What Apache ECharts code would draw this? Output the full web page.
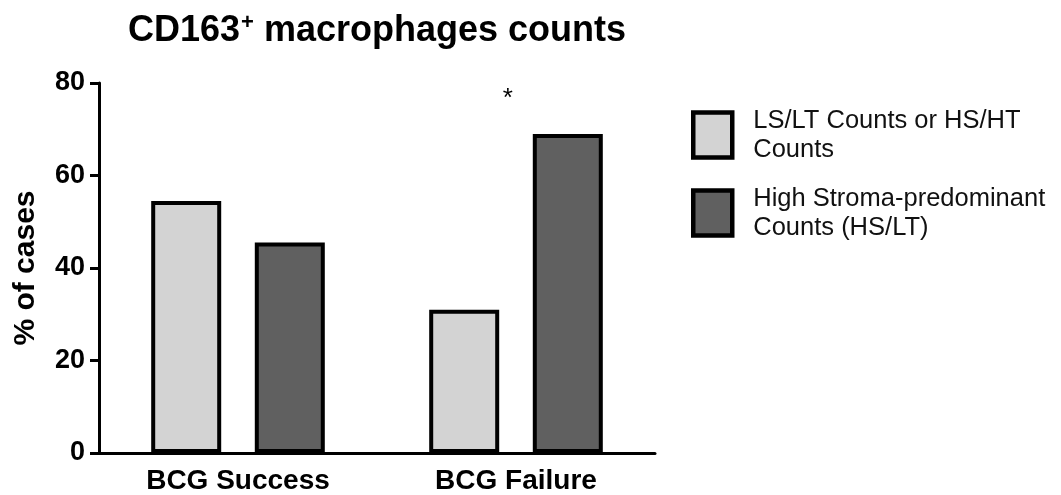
<!DOCTYPE html>
<html>
<head>
<meta charset="utf-8">
<script src="https://cdn.jsdelivr.net/npm/echarts@6/dist/echarts.min.js"></script>
<style>
html,body{margin:0;padding:0;background:#fff;}
#chart{width:1061px;height:495px;}
</style>
</head>
<body>
<div id="chart"></div>
<script>
const categories = ['BCG Success', 'BCG Failure'];
const seriesNames = ['LS/LT Counts or HS/HT\nCounts', 'High Stroma-predominant\nCounts (HS/LT)'];
const lowCounts = [54.5, 31];
const highStroma = [45.5, 69];
const yTicks = [0, 20, 40, 60, 80];
const significance = { category: 'BCG Failure', value: 76.5, text: '*' };

const FONT = '"Liberation Sans", Arial, Helvetica, sans-serif';
const chart = echarts.init(document.getElementById('chart'), null, { renderer: 'canvas' });

const barStyleBase = { borderColor: '#000', borderWidth: 4 };

chart.setOption({
  animation: false,
  backgroundColor: '#fff',
  title: {
    text: '{a|CD163}{s|+}{a| macrophages counts}',
    left: 123,
    top: 7,
    textStyle: {
      rich: {
        a: { fontFamily: FONT, fontWeight: 'bold', fontSize: 36, color: '#000' },
        s: { fontFamily: FONT, fontWeight: 'bold', fontSize: 22, color: '#000', verticalAlign: 'top', padding: [0, 0, 16, 1] }
      }
    }
  },
  legend: {
    orient: 'vertical',
    left: 691,
    top: 106,
    padding: 0,
    itemWidth: 39,
    itemHeight: 45,
    itemGap: 20,
    icon: 'rect',
    selectedMode: false,
    itemStyle: { borderColor: '#000', borderWidth: 4.5 },
    textStyle: { fontFamily: FONT, fontSize: 25.5, lineHeight: 29, color: '#111', padding: [0, 0, 0, 16] },
    data: seriesNames
  },
  grid: { left: 99, right: 406, top: 83, bottom: 42, containLabel: false },
  xAxis: {
    type: 'category',
    data: categories,
    axisLine: { lineStyle: { color: '#000', width: 3 } },
    axisTick: { alignWithLabel: true, length: 9, lineStyle: { color: '#000', width: 3 } },
    axisLabel: { fontFamily: FONT, fontWeight: 'bold', fontSize: 28, color: '#000', margin: 14 }
  },
  yAxis: {
    type: 'value',
    min: yTicks[0],
    max: yTicks[yTicks.length - 1],
    interval: yTicks[1] - yTicks[0],
    name: '% of cases',
    nameLocation: 'middle',
    nameRotate: 90,
    nameGap: 58,
    nameTextStyle: { fontFamily: FONT, fontWeight: 'bold', fontSize: 30, color: '#000' },
    splitLine: { show: false },
    axisLine: { show: true, lineStyle: { color: '#000', width: 3 } },
    axisTick: { show: true, length: 9, lineStyle: { color: '#000', width: 3 } },
    axisLabel: { fontFamily: FONT, fontWeight: 'bold', fontSize: 27, color: '#000', margin: 14 }
  },
  series: [
    {
      name: seriesNames[0],
      type: 'bar',
      data: lowCounts,
      barWidth: 70,
      barGap: '48%',
      itemStyle: Object.assign({ color: '#d3d3d3' }, barStyleBase)
    },
    {
      name: seriesNames[1],
      type: 'bar',
      data: highStroma,
      barWidth: 70,
      barGap: '48%',
      itemStyle: Object.assign({ color: '#606060' }, barStyleBase),
      markPoint: {
        symbol: 'circle',
        symbolSize: 0,
        silent: true,
        data: [{ coord: [significance.category, significance.value] }],
        label: {
          show: true,
          position: 'inside',
          formatter: significance.text,
          fontFamily: FONT,
          fontSize: 26,
          color: '#000',
          offset: [-60, 0]
        }
      }
    }
  ]
});
</script>
</body>
</html>
